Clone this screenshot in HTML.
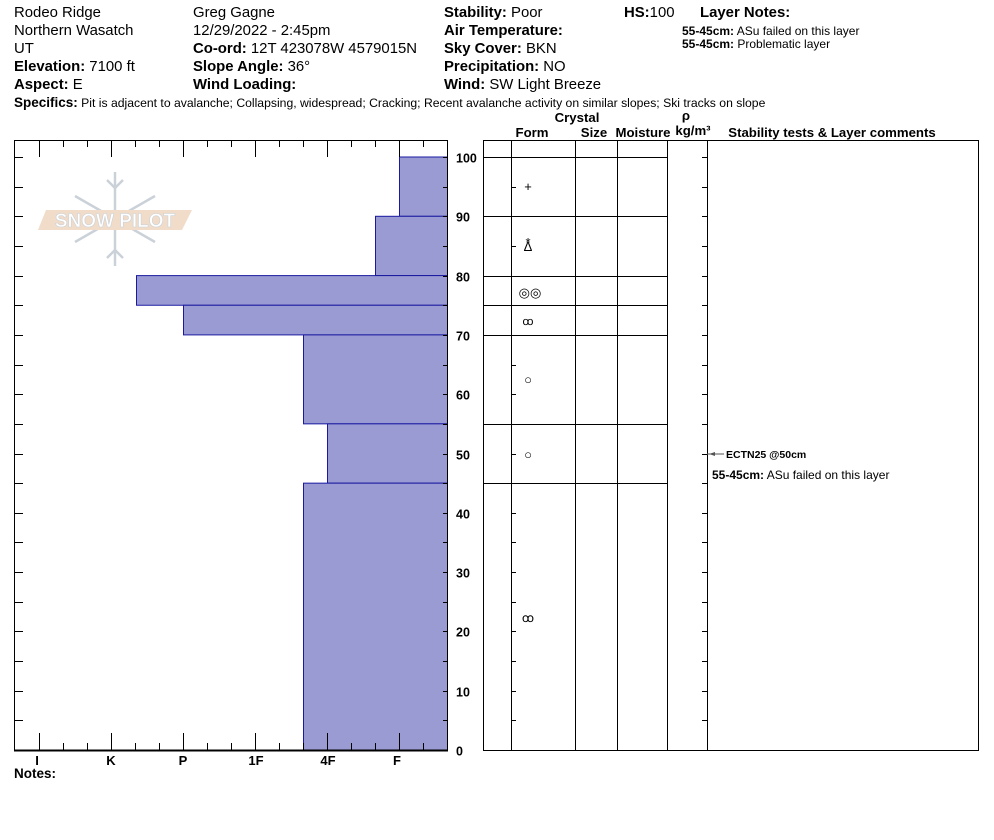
<!DOCTYPE html>
<html><head><meta charset="utf-8">
<style>
html,body{margin:0;padding:0;background:#fff;}
svg{display:block;font-family:"Liberation Sans",Arial,sans-serif;}
</style></head><body>
<svg id="s" width="994" height="840" viewBox="0 0 994 840" xmlns="http://www.w3.org/2000/svg">
<g font-size="14.9" fill="#000">
<text x="14" y="17">Rodeo Ridge</text>
<text x="14" y="35">Northern Wasatch</text>
<text x="14" y="53">UT</text>
<text x="14" y="71"><tspan font-weight="bold">Elevation:</tspan> 7100 ft</text>
<text x="14" y="89"><tspan font-weight="bold">Aspect:</tspan> E</text>
<text x="193" y="17">Greg Gagne</text>
<text x="193" y="35">12/29/2022 - 2:45pm</text>
<text x="193" y="53"><tspan font-weight="bold">Co-ord:</tspan> 12T 423078W 4579015N</text>
<text x="193" y="71"><tspan font-weight="bold">Slope Angle:</tspan> 36°</text>
<text x="193" y="89" font-weight="bold">Wind Loading:</text>
<text x="444" y="17"><tspan font-weight="bold">Stability:</tspan> Poor</text>
<text x="444" y="35" font-weight="bold">Air Temperature:</text>
<text x="444" y="53"><tspan font-weight="bold">Sky Cover:</tspan> BKN</text>
<text x="444" y="71"><tspan font-weight="bold">Precipitation:</tspan> NO</text>
<text x="444" y="89"><tspan font-weight="bold">Wind:</tspan>  SW  Light Breeze</text>
<text x="624" y="17"><tspan font-weight="bold">HS:</tspan>100</text>
<text x="700" y="17" font-weight="bold">Layer Notes:</text>
</g>
<text x="682" y="35" font-size="12"><tspan font-weight="bold">55-45cm:</tspan> ASu failed on this layer</text>
<text x="682" y="48" font-size="12"><tspan font-weight="bold">55-45cm:</tspan> Problematic layer</text>
<text x="14" y="107" font-size="12.2"><tspan font-weight="bold" font-size="13.5">Specifics:</tspan> Pit is adjacent to avalanche;  Collapsing, widespread;  Cracking;  Recent avalanche activity on similar slopes;  Ski tracks on slope</text>

<g font-size="13.2" font-weight="bold" text-anchor="middle">
<text x="577" y="122">Crystal</text>
<text x="532" y="137">Form</text>
<text x="594" y="137">Size</text>
<text x="643" y="137">Moisture</text>
<text x="686" y="120">ρ</text>
<text x="693" y="135">kg/m³</text>
<text x="832" y="137">Stability tests &amp; Layer comments</text>
</g>

<!-- logo -->
<g opacity="0.9">
<g stroke="#c5cdd4" stroke-width="2.5" fill="none">
<line x1="115" y1="172" x2="115" y2="266"/>
<line x1="75" y1="196" x2="155" y2="242"/>
<line x1="155" y1="196" x2="75" y2="242"/>
<polyline points="107,180 115,188 123,180"/><polyline points="107,258 115,250 123,258"/>
</g>
<polygon points="46,210 192,210 182,230 38,230" fill="#f0d9c4"/>
<text x="115" y="227" font-size="19" fill="#fff" stroke="#c5cdd4" stroke-width="0.6" text-anchor="middle" font-weight="bold">SNOW PILOT</text>
</g>

<g id="bars" fill="#9b9bd4" stroke="#1a1aa0" stroke-width="1"></g>
<g id="ax" stroke="#000" stroke-width="1" fill="none"></g>
<g id="lab" font-size="12.5" font-weight="bold"></g>

<g font-size="13" font-weight="bold" text-anchor="middle">
<text x="37" y="765">I</text><text x="111" y="765">K</text><text x="183" y="765">P</text>
<text x="256" y="765">1F</text><text x="328" y="765">4F</text><text x="397" y="765">F</text>
</g>
<text x="14" y="778" font-size="13.5" font-weight="bold">Notes:</text>

<g font-size="13" text-anchor="middle">
<text x="528" y="191">+</text>
<text x="528" y="251">Δ</text><text x="528" y="247">*</text>
<text x="530" y="297">◎◎</text>
<text x="528" y="325" font-size="11">ꝏ</text>
<text x="528" y="384">○</text>
<text x="528" y="459">○</text>
<text x="528" y="622" font-size="12">ꝏ</text>
</g>
<line x1="707" y1="454" x2="724" y2="454" stroke="#555"/>
<polygon points="709,454 715,452 715,456" fill="#555"/>
<text x="726" y="458" font-size="10.5" font-weight="bold">ECTN25 @50cm</text>
<text x="712" y="479" font-size="12"><tspan font-weight="bold">55-45cm:</tspan> ASu failed on this layer</text>
</svg>
<script>
const NS="http://www.w3.org/2000/svg";
function el(p,t,a){const e=document.createElementNS(NS,t);for(const k in a)e.setAttribute(k,a[k]);document.getElementById(p).appendChild(e);return e;}
const Y=c=>750-5.93*c;
[[100,90,399],[90,80,375],[80,75,136],[75,70,183],[70,55,303],[55,45,327],[45,0,303]].forEach(([t,b,x])=>{
 el("bars","rect",{x:x+.5,y:Y(t),width:447-x,height:Y(b)-Y(t)});});
el("ax","rect",{x:14.5,y:140.5,width:433,height:610});
el("ax","line",{x1:14,y1:750.5,x2:448,y2:750.5,"stroke-width":2});
el("ax","rect",{x:483.5,y:140.5,width:495,height:610});
for(let c=0;c<=100;c+=5){const y=Math.round(Y(c))+.5;
 el("ax","line",{x1:14,y1:y,x2:23,y2:y});
 el("ax","line",{x1:443,y1:y,x2:448,y2:y});
 el("ax","line",{x1:511,y1:y,x2:516,y2:y});
 el("ax","line",{x1:702,y1:y,x2:707,y2:y});
 if(c%10==0){const t=el("lab","text",{x:456,y:y+5});t.textContent=c;}}
for(let x=39;x<447;x+=24){const L=((x-39)%72==0)?17:7;el("ax","line",{x1:x+.5,y1:140,x2:x+.5,y2:140+L});el("ax","line",{x1:x+.5,y1:750,x2:x+.5,y2:750-L});}
[511,575,617,667,707].forEach(x=>el("ax","line",{x1:x+.5,y1:140,x2:x+.5,y2:750}));
[100,90,80,75,70,55,45].forEach(c=>{const y=Math.round(Y(c))+.5;el("ax","line",{x1:483,y1:y,x2:667,y2:y});});
</script>
</body></html>
